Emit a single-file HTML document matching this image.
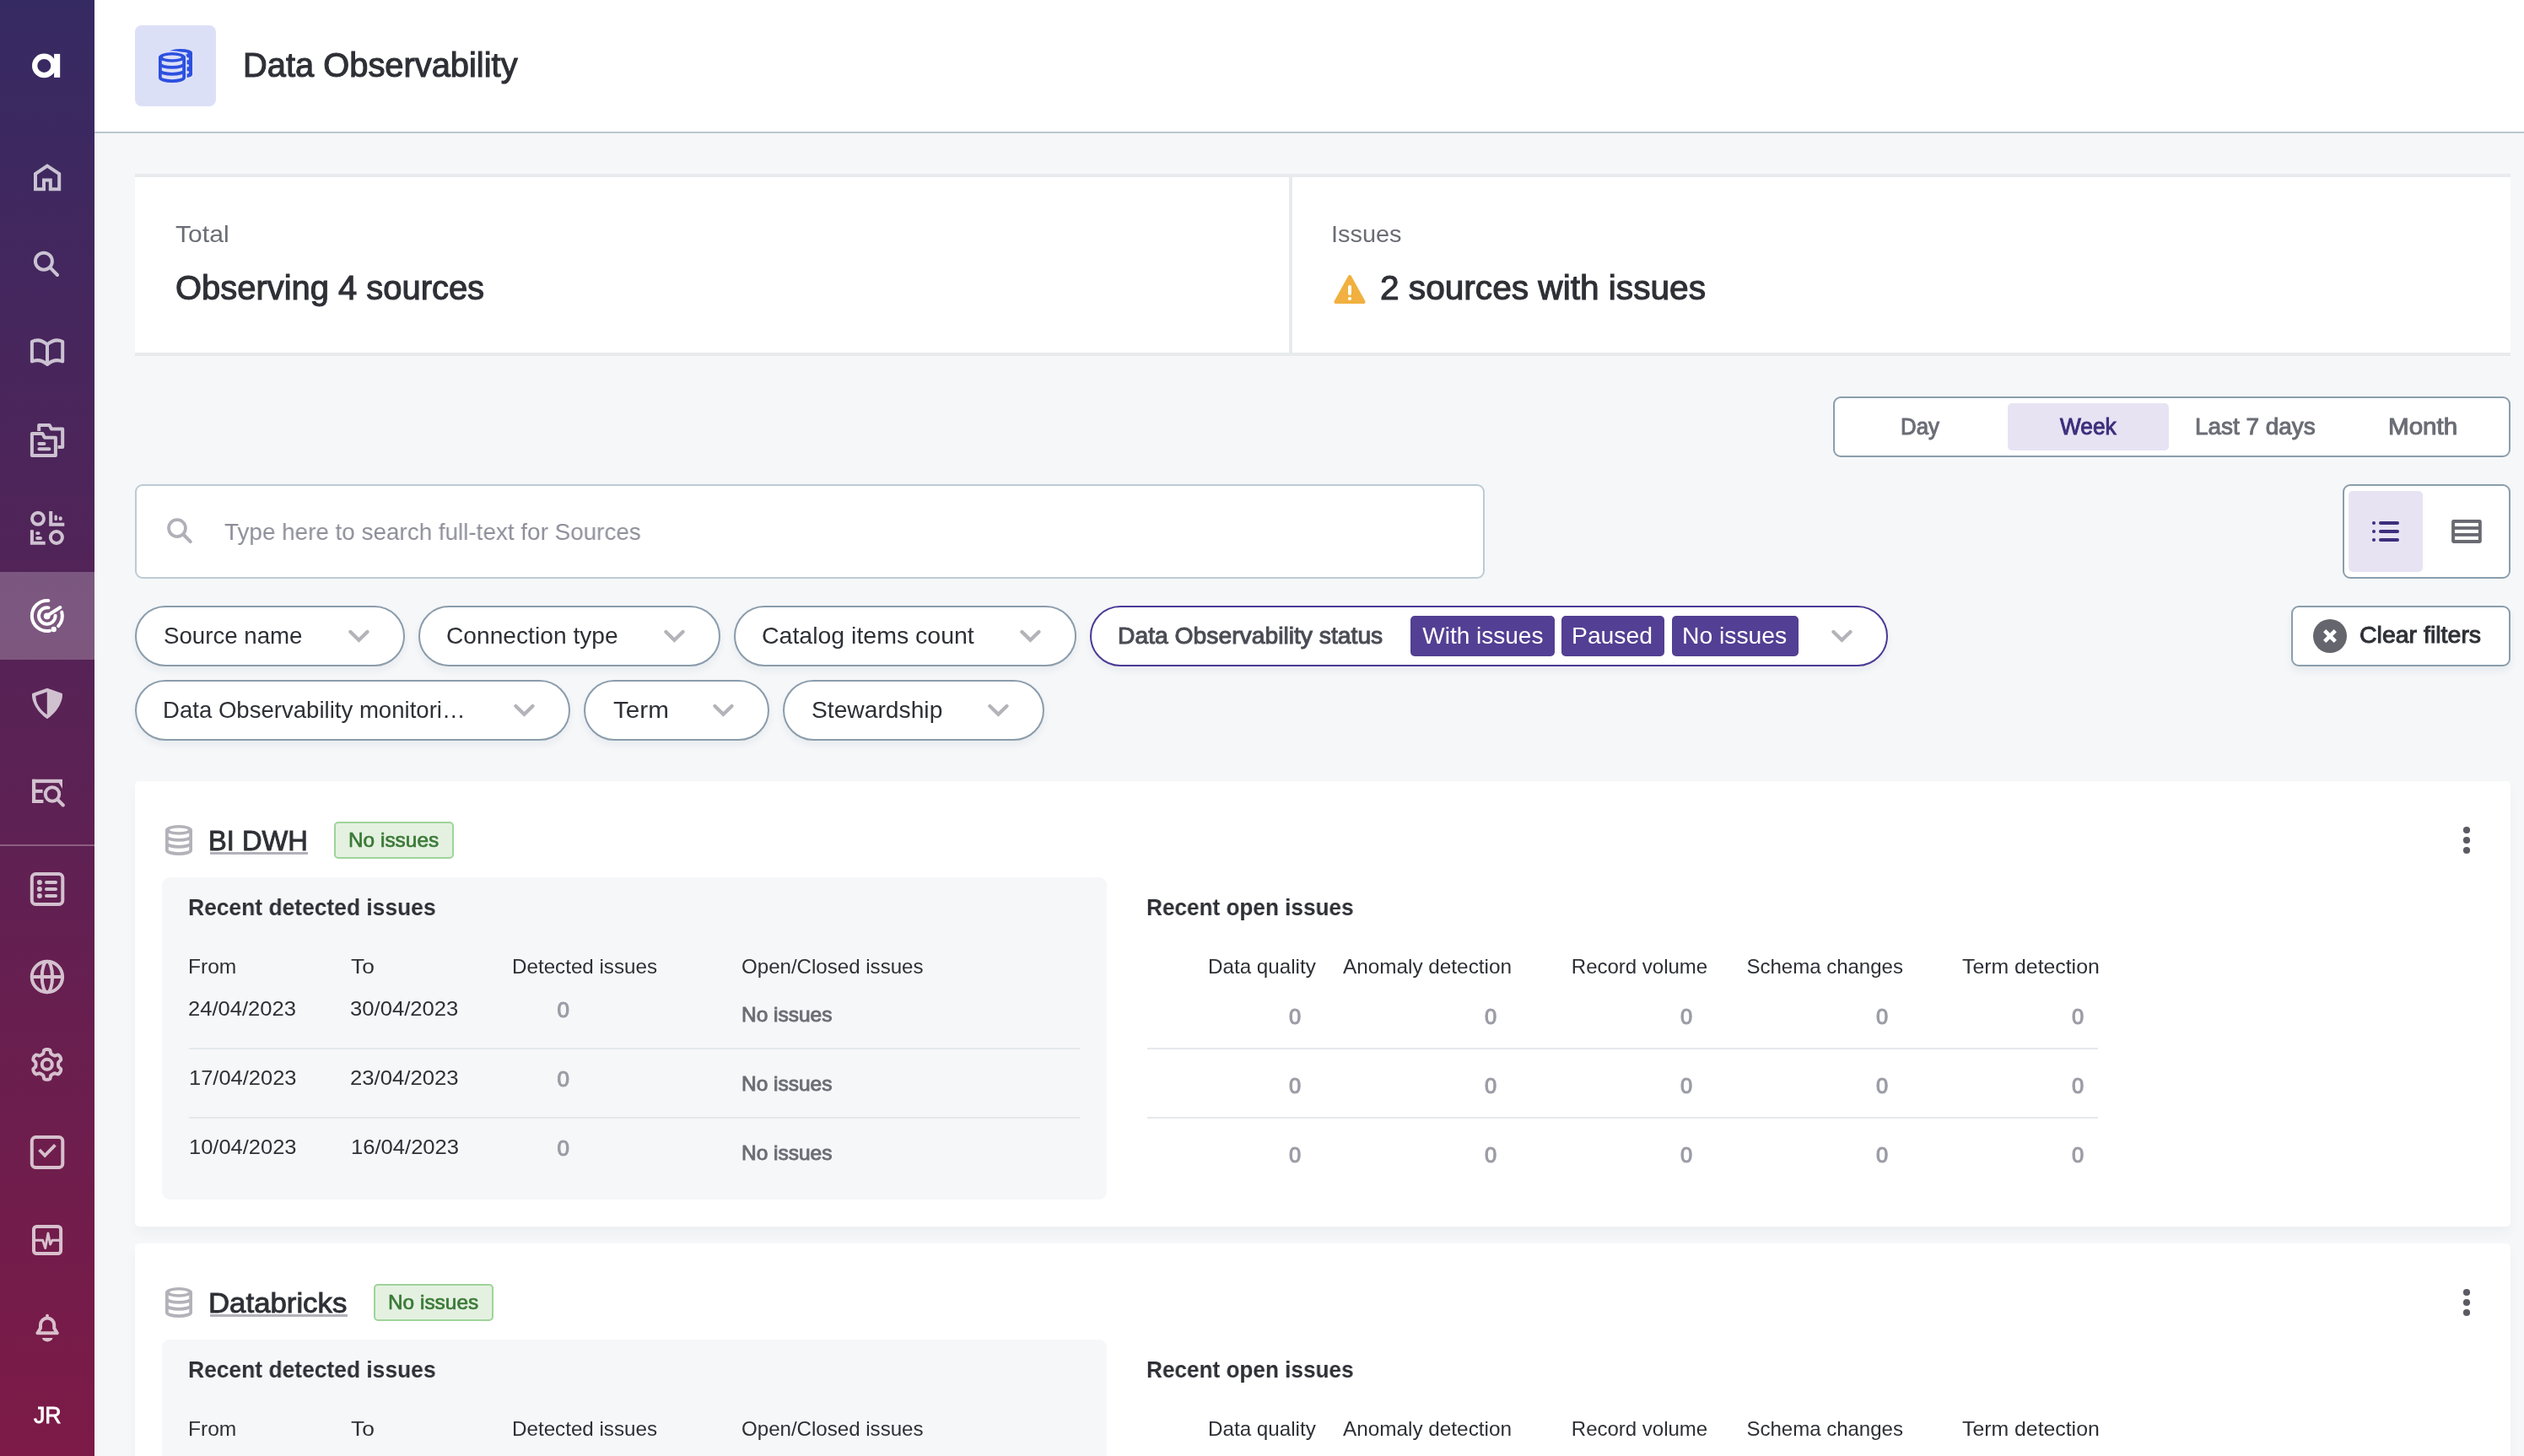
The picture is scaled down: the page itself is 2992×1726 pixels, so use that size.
<!DOCTYPE html>
<html lang="en"><head><meta charset="utf-8"><title>Data Observability</title>
<style>
html,body{margin:0;padding:0}
body{width:2992px;height:1726px;overflow:hidden;background:#f5f7f9;font-family:"Liberation Sans", sans-serif;position:relative}
.t{position:absolute;white-space:pre;line-height:1;transform-origin:0 0;display:block}
.a{position:absolute;box-sizing:border-box}
#root{position:absolute;left:0;top:0;width:2992px;height:1726px;will-change:transform}

</style></head>
<body>
<div id="root">
<div class="a" style="left:0px;top:0px;width:112px;height:1726px;background:linear-gradient(180deg,#362a63 0%,#7d1a47 100%)"></div>
<div class="a" style="left:0px;top:678px;width:112px;height:104px;background:rgba(255,255,255,0.24)"></div>
<div class="a" style="left:0px;top:1001px;width:112px;height:2px;background:rgba(255,255,255,0.28)"></div>
<svg class="a" style="left:0px;top:0px;" width="112" height="1726" viewBox="0 0 112 1726"><circle cx="52.3" cy="77.9" r="11.15" fill="none" stroke="#fff" stroke-width="6.3"/><rect x="64.1" y="63.9" width="7.1" height="28" fill="#fff"/><g opacity="0.72"><g fill="none" stroke="#ffffff" stroke-width="4" stroke-linejoin="round"><path d="M42,224.2 V206 L56,196.6 L70.2,206 V224.2 H59.8 V213.4 H52 V224.2 Z" stroke-linejoin="miter"/><circle cx="51.9" cy="309.7" r="10"/><path d="M59.6,317.4 L68,326" stroke-linecap="round"/><path d="M56,408.5 Q47,400.5 37.9,405 V428.5 Q47,424.5 56,432 Z"/><path d="M56,408.5 Q65,400.5 74.2,405 V428.5 Q65,424.5 56,432"/><path d="M37.9,514 H50.4 L52.8,518.7 H65.9 V540 H37.9 Z"/><path d="M46.2,511 V503.9 H58.6 L61,508.5 H74.2 V530 H68.6"/><path d="M46.4,526 H52.4 M46.4,532.2 H58.4" stroke-linecap="round"/><circle cx="45" cy="614.8" r="7"/><circle cx="66.9" cy="637" r="7"/><path d="M60.2,606 V621.8 H76.3" stroke-linejoin="miter"/><path d="M37.9,628.3 V643.8 H53.7" stroke-linejoin="miter"/></g><g fill="#ffffff"><rect x="64.5" y="610.4" width="3.4" height="6.8" rx="1.7"/><rect x="69.6" y="612.2" width="4.2" height="5" rx="2.1"/><rect x="42.2" y="630.2" width="5.4" height="3.8" rx="1.9"/><rect x="42.2" y="636" width="7.8" height="4" rx="2"/></g></g><g fill="none" stroke="#fff" stroke-width="4" stroke-linecap="round"><path d="M57.37,712.07 A18,18 0 1 0 58.93,747.73"/><path d="M69.18,742.04 A18,18 0 0 0 73.27,725.65"/><path d="M57.50,720.35 A9.8,9.8 0 1 0 65.59,729.66"/><path d="M55.8,730 L71.4,720"/></g><circle cx="55.7" cy="730.3" r="3.9" fill="#fff"/><circle cx="63.7" cy="746" r="3.2" fill="#fff"/><g opacity="0.72"><path fill-rule="evenodd" fill="#ffffff" d="M56,815.7 L73.6,822 C74.6,823 75,838.5 56,852.3 C37,838.5 37.4,823 38.4,822 Z M55.8,820.3 L42.4,825 C42.4,833 46.5,841 55.8,847.2 Z"/><g fill="#ffffff"><rect x="38" y="923.8" width="4.2" height="28.2"/><rect x="38" y="923.8" width="36" height="4.3"/><path d="M69.8,928 H74 V935 Z"/><rect x="38" y="935.9" width="12.6" height="4"/><rect x="38" y="948" width="13.4" height="4"/></g><g fill="none" stroke="#ffffff" stroke-width="4"><circle cx="62" cy="941.5" r="8.2"/><path d="M68.4,948 L74.8,954.5" stroke-linecap="round"/></g><g fill="none" stroke="#ffffff" stroke-width="4"><rect x="37.8" y="1036" width="36.5" height="36" rx="4.5"/><path d="M55,1045.9 H66" stroke-linecap="round"/><path d="M55,1053.9 H66" stroke-linecap="round"/><path d="M55,1061.9 H66" stroke-linecap="round"/></g><circle cx="46.9" cy="1045.9" r="3" fill="#ffffff"/><circle cx="46.9" cy="1053.9" r="3" fill="#ffffff"/><circle cx="46.9" cy="1061.9" r="3" fill="#ffffff"/><g fill="none" stroke="#ffffff" stroke-width="4"><circle cx="55.9" cy="1158" r="18.2"/><ellipse cx="55.9" cy="1158" rx="6.2" ry="18.2"/><path d="M37.7,1158 H74.1"/></g><g fill="none" stroke="#ffffff" stroke-width="4" stroke-linejoin="round"><path d="M69.05,1261.90 L69.07,1262.60 L69.13,1263.30 L69.25,1264.03 L69.48,1264.81 L70.87,1265.94 L72.17,1267.22 L72.21,1268.20 L72.06,1269.14 L71.76,1270.03 L71.35,1270.88 L70.82,1271.66 L70.20,1272.36 L69.46,1272.97 L68.59,1273.42 L66.83,1272.93 L65.16,1272.29 L64.37,1272.48 L63.68,1272.74 L63.04,1273.04 L62.42,1273.37 L61.83,1273.74 L61.25,1274.15 L60.68,1274.61 L60.12,1275.20 L59.84,1276.97 L59.38,1278.74 L58.55,1279.27 L57.66,1279.60 L56.74,1279.79 L55.80,1279.85 L54.86,1279.79 L53.94,1279.60 L53.05,1279.27 L52.22,1278.74 L51.76,1276.97 L51.48,1275.20 L50.92,1274.61 L50.35,1274.15 L49.77,1273.74 L49.17,1273.37 L48.56,1273.04 L47.92,1272.74 L47.23,1272.48 L46.44,1272.29 L44.77,1272.93 L43.01,1273.42 L42.14,1272.97 L41.40,1272.36 L40.78,1271.66 L40.25,1270.88 L39.84,1270.03 L39.54,1269.14 L39.39,1268.20 L39.43,1267.22 L40.73,1265.94 L42.12,1264.81 L42.35,1264.03 L42.47,1263.30 L42.53,1262.60 L42.55,1261.90 L42.53,1261.20 L42.47,1260.50 L42.35,1259.77 L42.12,1258.99 L40.73,1257.86 L39.43,1256.58 L39.39,1255.60 L39.54,1254.66 L39.84,1253.77 L40.25,1252.93 L40.78,1252.14 L41.40,1251.44 L42.14,1250.83 L43.01,1250.38 L44.77,1250.87 L46.44,1251.51 L47.23,1251.32 L47.92,1251.06 L48.56,1250.76 L49.17,1250.43 L49.77,1250.06 L50.35,1249.65 L50.92,1249.19 L51.48,1248.60 L51.76,1246.83 L52.22,1245.06 L53.05,1244.53 L53.94,1244.20 L54.86,1244.01 L55.80,1243.95 L56.74,1244.01 L57.66,1244.20 L58.55,1244.53 L59.38,1245.06 L59.84,1246.83 L60.12,1248.60 L60.68,1249.19 L61.25,1249.65 L61.83,1250.06 L62.42,1250.43 L63.04,1250.76 L63.68,1251.06 L64.37,1251.32 L65.16,1251.51 L66.83,1250.87 L68.59,1250.38 L69.46,1250.83 L70.20,1251.44 L70.82,1252.14 L71.35,1252.93 L71.76,1253.77 L72.06,1254.66 L72.21,1255.60 L72.17,1256.58 L70.87,1257.86 L69.48,1258.99 L69.25,1259.77 L69.13,1260.50 L69.07,1261.20 Z"/><circle cx="55.8" cy="1261.8" r="6"/></g><g fill="none" stroke="#ffffff" stroke-width="4"><rect x="37.8" y="1348" width="36.5" height="36" rx="4.5"/><path d="M46.6,1363 L53.2,1369.8 L65.4,1357.4" stroke-width="3.8"/></g><g fill="none" stroke="#ffffff" stroke-width="4"><rect x="40" y="1454" width="32.1" height="32.1" rx="3.5"/><path d="M40,1470.2 H50.6 L53.7,1479.5 L57,1462 L59.6,1475 L62,1470.2 H72" stroke-width="2.9" stroke-linejoin="round"/></g><g fill="none" stroke="#ffffff" stroke-width="4" stroke-linejoin="round"><path d="M44.4,1580.2 L48,1574.5 V1570.6 A8.1,8.1 0 0 1 64.2,1570.6 V1574.5 L67.8,1580.2 Z"/></g><circle cx="56" cy="1559.8" r="2" fill="#ffffff"/><path d="M50,1586 H62.4 A6.2,4.4 0 0 1 50,1586 Z" fill="#ffffff"/></g></svg>
<span class="t" style="left:39.90px;top:1664.00px;font-size:28px;color:#ffffff;transform:scaleX(0.9552);-webkit-text-stroke:0.8px currentColor;">JR</span>
<div class="a" style="left:112px;top:0px;width:2880px;height:156px;background:#fff"></div>
<div class="a" style="left:112px;top:156px;width:2880px;height:2px;background:#b9c6d0"></div>
<div class="a" style="left:160px;top:30px;width:96px;height:96px;background:#dce0f7;border-radius:8px"></div>
<svg class="a" style="left:184px;top:54px;" width="48" height="48" viewBox="184 54 48 48"><path d="M200,62.2 A14,4.3 0 0 1 228,62.2 V88.5 A14,4.3 0 0 1 200,88.5 Z" fill="#2d50e0"/><ellipse cx="213.4" cy="63.4" rx="9.2" ry="2.0" fill="#dce0f7"/><rect x="220.6" y="68.2" width="3.2" height="3" fill="#dce0f7"/><rect x="220.6" y="76.3" width="3.2" height="3" fill="#dce0f7"/><rect x="220.6" y="84.2" width="3.2" height="3" fill="#dce0f7"/><path d="M186.4,67.8 A17.6,7.6 0 0 1 221.6,67.8 V92 A17.6,7.6 0 0 1 186.4,92 Z" fill="#dce0f7"/><path fill="#2d50e0" fill-rule="evenodd" d="M188,67.85 a16,5.9 0 1 0 32,0 a16,5.9 0 1 0 -32,0 Z M193,67.85 a11,2.3 0 1 0 22,0 a11,2.3 0 1 0 -22,0 Z"/><g fill="none" stroke="#2d50e0" stroke-width="3.8"><path d="M189.9,67.85 V92.05 A14.1,4 0 0 0 218.1,92.05 V67.85"/><path d="M189.9,75.9 A14.1,4 0 0 0 218.1,75.9"/><path d="M189.9,83.85 A14.1,4 0 0 0 218.1,83.85"/></g></svg>
<span class="t" style="left:287.76px;top:57.00px;font-size:40px;color:#2e3036;transform:scaleX(0.9962);-webkit-text-stroke:1.1px currentColor;">Data Observability</span>
<div class="a" style="left:160px;top:206px;width:2816px;height:216px;background:#fff;border-top:4px solid #e8ebee;border-bottom:4px solid #e8ebee"></div>
<div class="a" style="left:1528px;top:206px;width:4px;height:216px;background:#e8ebee"></div>
<span class="t" style="left:207.94px;top:264.00px;font-size:28px;color:#6b6d75;transform:scaleX(1.0752);">Total</span>
<span class="t" style="left:208.25px;top:321.00px;font-size:40px;color:#2e3036;transform:scaleX(0.9979);-webkit-text-stroke:1.1px currentColor;">Observing 4 sources</span>
<span class="t" style="left:1578.42px;top:264.00px;font-size:28px;color:#6b6d75;transform:scaleX(1.0323);">Issues</span>
<svg class="a" style="left:1580px;top:325px;" width="40" height="36" viewBox="0 0 40 36"><path d="M20,3 L36.6,33 L3.4,33 Z" fill="#f1b03f" stroke="#f1b03f" stroke-width="4" stroke-linejoin="round"/><rect x="18" y="13" width="4" height="12" rx="2" fill="#fff"/><circle cx="20" cy="29" r="2.1" fill="#fff"/></svg>
<span class="t" style="left:1635.98px;top:321.00px;font-size:40px;color:#2e3036;transform:scaleX(1.0152);-webkit-text-stroke:1.1px currentColor;">2 sources with issues</span>
<div class="a" style="left:2173px;top:470px;width:803px;height:72px;background:#fff;border:2px solid #8a9eac;border-radius:9px"></div>
<div class="a" style="left:2380px;top:478px;width:191px;height:56px;background:#e7e3f3;border-radius:5px"></div>
<span class="t" style="left:2253.38px;top:492.00px;font-size:28px;color:#6b6d75;transform:scaleX(0.9231);-webkit-text-stroke:1.0px currentColor;">Day</span>
<span class="t" style="left:2441.97px;top:492.00px;font-size:28px;color:#3d2e7c;transform:scaleX(0.9379);-webkit-text-stroke:1.0px currentColor;">Week</span>
<span class="t" style="left:2601.76px;top:492.00px;font-size:28px;color:#6b6d75;transform:scaleX(0.9965);-webkit-text-stroke:1.0px currentColor;">Last 7 days</span>
<span class="t" style="left:2831.15px;top:492.00px;font-size:28px;color:#6b6d75;transform:scaleX(1.0569);-webkit-text-stroke:1.0px currentColor;">Month</span>
<div class="a" style="left:160px;top:574px;width:1600px;height:112px;background:#fff;border:2px solid #bccbd4;border-radius:9px"></div>
<svg class="a" style="left:198px;top:613.5px;" width="32" height="32" viewBox="0 0 32 32"><g fill="none" stroke="#b1afb7" stroke-linecap="round"><circle cx="11.95" cy="12.1" r="9.95" stroke-width="3.7"/><path d="M19.3,19.5 L27.8,28.1" stroke-width="4"/></g></svg>
<span class="t" style="left:266.25px;top:617.00px;font-size:28px;color:#8e8e9a;transform:scaleX(0.9944);">Type here to search full-text for Sources</span>
<div class="a" style="left:2776.5px;top:574px;width:199px;height:112px;background:#fff;border:2px solid #8a9eac;border-radius:9px"></div>
<div class="a" style="left:2784px;top:582px;width:88px;height:96px;background:#e7e3f3;border-radius:5px"></div>
<svg class="a" style="left:2811px;top:616px;" width="34" height="28" viewBox="0 0 34 28"><circle cx="3" cy="4" r="2.05" fill="#3d2e7c"/><path d="M11,4 H31" stroke="#3d2e7c" stroke-width="4" stroke-linecap="round"/><circle cx="3" cy="14" r="2.05" fill="#3d2e7c"/><path d="M11,14 H31" stroke="#3d2e7c" stroke-width="4" stroke-linecap="round"/><circle cx="3" cy="24" r="2.05" fill="#3d2e7c"/><path d="M11,24 H31" stroke="#3d2e7c" stroke-width="4" stroke-linecap="round"/></svg>
<svg class="a" style="left:2906px;top:616px;" width="36" height="28" viewBox="0 0 36 28"><rect x="0.1" y="0.1" width="35.7" height="27.8" rx="2.4" fill="#696a71"/><rect x="3.95" y="3.95" width="28" height="4.1" fill="#fff"/><rect x="3.95" y="11.9" width="28" height="4.1" fill="#fff"/><rect x="3.95" y="19.85" width="28" height="4.1" fill="#fff"/></svg>
<div class="a" style="left:160px;top:718px;width:320px;height:72px;background:#fff;border:2px solid #8a9cab;border-radius:36px;box-shadow:0 5px 10px rgba(40,50,70,0.06)"></div>
<span class="t" style="left:193.77px;top:740.00px;font-size:28px;color:#2e3036;transform:scaleX(0.9878);">Source name</span>
<svg class="a" style="left:413px;top:746px;" width="25" height="17" viewBox="0 0 25 17"><path d="M2.4,2.9 L12.4,12.8 L22.5,2.9" fill="none" stroke="#b4b3b9" stroke-width="4.2" stroke-linecap="round" stroke-linejoin="miter"/></svg>
<div class="a" style="left:496px;top:718px;width:357.5px;height:72px;background:#fff;border:2px solid #8a9cab;border-radius:36px;box-shadow:0 5px 10px rgba(40,50,70,0.06)"></div>
<span class="t" style="left:528.99px;top:740.00px;font-size:28px;color:#2e3036;transform:scaleX(1.0063);">Connection type</span>
<svg class="a" style="left:786.5px;top:746px;" width="25" height="17" viewBox="0 0 25 17"><path d="M2.4,2.9 L12.4,12.8 L22.5,2.9" fill="none" stroke="#b4b3b9" stroke-width="4.2" stroke-linecap="round" stroke-linejoin="miter"/></svg>
<div class="a" style="left:870px;top:718px;width:405.5px;height:72px;background:#fff;border:2px solid #8a9cab;border-radius:36px;box-shadow:0 5px 10px rgba(40,50,70,0.06)"></div>
<span class="t" style="left:902.97px;top:740.00px;font-size:28px;color:#2e3036;transform:scaleX(1.0173);">Catalog items count</span>
<svg class="a" style="left:1208.5px;top:746px;" width="25" height="17" viewBox="0 0 25 17"><path d="M2.4,2.9 L12.4,12.8 L22.5,2.9" fill="none" stroke="#b4b3b9" stroke-width="4.2" stroke-linecap="round" stroke-linejoin="miter"/></svg>
<div class="a" style="left:1292px;top:718px;width:946px;height:72px;background:#fff;border:2px solid #4b3a96;border-radius:36px;box-shadow:0 5px 10px rgba(40,50,70,0.06)"></div>
<span class="t" style="left:1325.23px;top:740.00px;font-size:28px;color:#4a4c54;transform:scaleX(1.0097);-webkit-text-stroke:1.0px currentColor;">Data Observability status</span>
<div class="a" style="left:1672px;top:730px;width:171px;height:48px;background:#533f93;border-radius:5px"></div>
<span class="t" style="left:1686.25px;top:740.00px;font-size:28px;color:#ffffff;">With issues</span>
<div class="a" style="left:1851px;top:730px;width:122px;height:48px;background:#533f93;border-radius:5px"></div>
<span class="t" style="left:1863.23px;top:740.00px;font-size:28px;color:#ffffff;transform:scaleX(1.0110);">Paused</span>
<div class="a" style="left:1981.5px;top:730px;width:150.5px;height:48px;background:#533f93;border-radius:5px"></div>
<span class="t" style="left:1993.73px;top:740.00px;font-size:28px;color:#ffffff;transform:scaleX(1.0104);">No issues</span>
<svg class="a" style="left:2171px;top:746px;" width="25" height="17" viewBox="0 0 25 17"><path d="M2.4,2.9 L12.4,12.8 L22.5,2.9" fill="none" stroke="#b4b3b9" stroke-width="4.2" stroke-linecap="round" stroke-linejoin="miter"/></svg>
<div class="a" style="left:160px;top:806px;width:515.5px;height:72px;background:#fff;border:2px solid #8a9cab;border-radius:36px;box-shadow:0 5px 10px rgba(40,50,70,0.06)"></div>
<span class="t" style="left:192.78px;top:828.00px;font-size:28px;color:#2e3036;transform:scaleX(0.9846);">Data Observability monitori…</span>
<svg class="a" style="left:609px;top:834px;" width="25" height="17" viewBox="0 0 25 17"><path d="M2.4,2.9 L12.4,12.8 L22.5,2.9" fill="none" stroke="#b4b3b9" stroke-width="4.2" stroke-linecap="round" stroke-linejoin="miter"/></svg>
<div class="a" style="left:692px;top:806px;width:219.5px;height:72px;background:#fff;border:2px solid #8a9cab;border-radius:36px;box-shadow:0 5px 10px rgba(40,50,70,0.06)"></div>
<span class="t" style="left:726.71px;top:828.00px;font-size:28px;color:#2e3036;transform:scaleX(1.0588);">Term</span>
<svg class="a" style="left:844.5px;top:834px;" width="25" height="17" viewBox="0 0 25 17"><path d="M2.4,2.9 L12.4,12.8 L22.5,2.9" fill="none" stroke="#b4b3b9" stroke-width="4.2" stroke-linecap="round" stroke-linejoin="miter"/></svg>
<div class="a" style="left:928px;top:806px;width:310px;height:72px;background:#fff;border:2px solid #8a9cab;border-radius:36px;box-shadow:0 5px 10px rgba(40,50,70,0.06)"></div>
<span class="t" style="left:961.74px;top:828.00px;font-size:28px;color:#2e3036;transform:scaleX(1.0082);">Stewardship</span>
<svg class="a" style="left:1171px;top:834px;" width="25" height="17" viewBox="0 0 25 17"><path d="M2.4,2.9 L12.4,12.8 L22.5,2.9" fill="none" stroke="#b4b3b9" stroke-width="4.2" stroke-linecap="round" stroke-linejoin="miter"/></svg>
<div class="a" style="left:2716px;top:718px;width:259.5px;height:72px;background:#fff;border:2px solid #8a9eac;border-radius:9px;box-shadow:0 6px 10px rgba(40,50,70,0.06)"></div>
<svg class="a" style="left:2742px;top:734px;" width="40" height="40" viewBox="0 0 40 40"><circle cx="20" cy="20" r="20" fill="#65666d"/><path d="M13.7,13.7 L26.3,26.3 M26.3,13.7 L13.7,26.3" stroke="#fff" stroke-width="4.6" stroke-linecap="butt"/></svg>
<span class="t" style="left:2797.48px;top:739.00px;font-size:28px;color:#2e3036;transform:scaleX(1.0179);-webkit-text-stroke:1.0px currentColor;">Clear filters</span>
<div class="a" style="left:160px;top:926px;width:2816px;height:527.5px;background:#fff;border-radius:5px;box-shadow:0 8px 14px rgba(40,50,70,0.035)"></div><svg class="a" style="left:194px;top:976px;" width="36" height="40" viewBox="194 976 36 40"><path fill="#b3b2b9" fill-rule="evenodd" d="M196,983.85 a16,5.9 0 1 0 32,0 a16,5.9 0 1 0 -32,0 Z M201,983.85 a11,2.3 0 1 0 22,0 a11,2.3 0 1 0 -22,0 Z"/><g fill="none" stroke="#b3b2b9" stroke-width="3.8"><path d="M197.9,983.85 V1008.05 A14.1,4 0 0 0 226.1,1008.05 V983.85"/><path d="M197.9,991.9 A14.1,4 0 0 0 226.1,991.9"/><path d="M197.9,999.85 A14.1,4 0 0 0 226.1,999.85"/></g></svg><span class="t" style="left:247.27px;top:980.00px;font-size:33px;color:#2e3036;transform:scaleX(0.9891);-webkit-text-stroke:0.9px currentColor;">BI DWH</span><div class="a" style="left:248.5px;top:1009.5px;width:116px;height:3.5px;background:#b3b2ba"></div><div class="a" style="left:396px;top:974px;width:142px;height:44px;background:#e4f1e1;border:2px solid #9fd39a;border-radius:5px"></div><span class="t" style="left:412.97px;top:984.00px;font-size:24px;color:#3b7a37;transform:scaleX(1.0169);-webkit-text-stroke:0.7px currentColor;">No issues</span><svg class="a" style="left:2918.75px;top:979px;overflow:visible" width="10" height="34" viewBox="0 0 10 34"><circle cx="5" cy="5" r="4.1" fill="#5b5c63"/><circle cx="5" cy="17" r="4.1" fill="#5b5c63"/><circle cx="5" cy="29" r="4.1" fill="#5b5c63"/></svg><div class="a" style="left:192px;top:1040px;width:1120px;height:382px;background:#f6f7f9;border-radius:9px"></div><span class="t" style="left:223.11px;top:1062.00px;font-size:28px;color:#2e3036;font-weight:700;transform:scaleX(0.9432);">Recent detected issues</span><span class="t" style="left:222.95px;top:1134.00px;font-size:24px;color:#2e3036;transform:scaleX(1.0238);">From</span><span class="t" style="left:415.95px;top:1134.00px;font-size:24px;color:#2e3036;transform:scaleX(1.0947);">To</span><span class="t" style="left:606.99px;top:1134.00px;font-size:24px;color:#2e3036;transform:scaleX(1.0075);">Detected issues</span><span class="t" style="left:879.05px;top:1134.00px;font-size:24px;color:#2e3036;transform:scaleX(1.0035);">Open/Closed issues</span><span class="t" style="left:223.17px;top:1184.00px;font-size:24px;color:#2e3036;transform:scaleX(1.0658);">24/04/2023</span><span class="t" style="left:415.43px;top:1184.00px;font-size:24px;color:#2e3036;transform:scaleX(1.0678);">30/04/2023</span><span class="t" style="left:660.50px;top:1184.00px;font-size:26px;color:#9b9ca5;-webkit-text-stroke:1.1px currentColor;">0</span><span class="t" style="left:878.77px;top:1191.00px;font-size:24px;color:#6b6d75;transform:scaleX(1.0193);-webkit-text-stroke:0.9px currentColor;">No issues</span><div class="a" style="left:224px;top:1242px;width:1056px;height:2px;background:#e4e9ec"></div><div class="a" style="left:1360px;top:1242px;width:1127px;height:2px;background:#e4e9ec"></div><span class="t" style="left:223.64px;top:1266.00px;font-size:24px;color:#2e3036;transform:scaleX(1.0618);">17/04/2023</span><span class="t" style="left:415.16px;top:1266.00px;font-size:24px;color:#2e3036;transform:scaleX(1.0701);">23/04/2023</span><span class="t" style="left:660.50px;top:1266.00px;font-size:26px;color:#9b9ca5;-webkit-text-stroke:1.1px currentColor;">0</span><span class="t" style="left:878.77px;top:1273.00px;font-size:24px;color:#6b6d75;transform:scaleX(1.0193);-webkit-text-stroke:0.9px currentColor;">No issues</span><div class="a" style="left:224px;top:1324px;width:1056px;height:2px;background:#e4e9ec"></div><div class="a" style="left:1360px;top:1324px;width:1127px;height:2px;background:#e4e9ec"></div><span class="t" style="left:223.64px;top:1348.00px;font-size:24px;color:#2e3036;transform:scaleX(1.0618);">10/04/2023</span><span class="t" style="left:415.63px;top:1348.00px;font-size:24px;color:#2e3036;transform:scaleX(1.0661);">16/04/2023</span><span class="t" style="left:660.50px;top:1348.00px;font-size:26px;color:#9b9ca5;-webkit-text-stroke:1.1px currentColor;">0</span><span class="t" style="left:878.77px;top:1355.00px;font-size:24px;color:#6b6d75;transform:scaleX(1.0193);-webkit-text-stroke:0.9px currentColor;">No issues</span><span class="t" style="left:1359.13px;top:1062.00px;font-size:28px;color:#2e3036;font-weight:700;transform:scaleX(0.9336);">Recent open issues</span><span class="t" style="left:1431.98px;top:1134.00px;font-size:24px;color:#2e3036;transform:scaleX(1.0080);">Data quality</span><span class="t" style="left:1528.26px;top:1192.00px;font-size:26px;color:#9b9ca5;transform:scaleX(0.9815);-webkit-text-stroke:1.1px currentColor;">0</span><span class="t" style="left:1528.26px;top:1274.00px;font-size:26px;color:#9b9ca5;transform:scaleX(0.9815);-webkit-text-stroke:1.1px currentColor;">0</span><span class="t" style="left:1528.26px;top:1356.00px;font-size:26px;color:#9b9ca5;transform:scaleX(0.9815);-webkit-text-stroke:1.1px currentColor;">0</span><span class="t" style="left:1592.40px;top:1134.00px;font-size:24px;color:#2e3036;transform:scaleX(1.0128);">Anomaly detection</span><span class="t" style="left:1760.11px;top:1192.00px;font-size:26px;color:#9b9ca5;transform:scaleX(0.9815);-webkit-text-stroke:1.1px currentColor;">0</span><span class="t" style="left:1760.11px;top:1274.00px;font-size:26px;color:#9b9ca5;transform:scaleX(0.9815);-webkit-text-stroke:1.1px currentColor;">0</span><span class="t" style="left:1760.11px;top:1356.00px;font-size:26px;color:#9b9ca5;transform:scaleX(0.9815);-webkit-text-stroke:1.1px currentColor;">0</span><span class="t" style="left:1862.80px;top:1134.00px;font-size:24px;color:#2e3036;">Record volume</span><span class="t" style="left:1991.96px;top:1192.00px;font-size:26px;color:#9b9ca5;transform:scaleX(0.9815);-webkit-text-stroke:1.1px currentColor;">0</span><span class="t" style="left:1991.96px;top:1274.00px;font-size:26px;color:#9b9ca5;transform:scaleX(0.9815);-webkit-text-stroke:1.1px currentColor;">0</span><span class="t" style="left:1991.96px;top:1356.00px;font-size:26px;color:#9b9ca5;transform:scaleX(0.9815);-webkit-text-stroke:1.1px currentColor;">0</span><span class="t" style="left:2070.45px;top:1134.00px;font-size:24px;color:#2e3036;">Schema changes</span><span class="t" style="left:2223.81px;top:1192.00px;font-size:26px;color:#9b9ca5;transform:scaleX(0.9815);-webkit-text-stroke:1.1px currentColor;">0</span><span class="t" style="left:2223.81px;top:1274.00px;font-size:26px;color:#9b9ca5;transform:scaleX(0.9815);-webkit-text-stroke:1.1px currentColor;">0</span><span class="t" style="left:2223.81px;top:1356.00px;font-size:26px;color:#9b9ca5;transform:scaleX(0.9815);-webkit-text-stroke:1.1px currentColor;">0</span><span class="t" style="left:2325.58px;top:1134.00px;font-size:24px;color:#2e3036;transform:scaleX(1.0338);">Term detection</span><span class="t" style="left:2455.66px;top:1192.00px;font-size:26px;color:#9b9ca5;transform:scaleX(0.9815);-webkit-text-stroke:1.1px currentColor;">0</span><span class="t" style="left:2455.66px;top:1274.00px;font-size:26px;color:#9b9ca5;transform:scaleX(0.9815);-webkit-text-stroke:1.1px currentColor;">0</span><span class="t" style="left:2455.66px;top:1356.00px;font-size:26px;color:#9b9ca5;transform:scaleX(0.9815);-webkit-text-stroke:1.1px currentColor;">0</span>
<div class="a" style="left:160px;top:1474px;width:2816px;height:527.5px;background:#fff;border-radius:5px;box-shadow:0 8px 14px rgba(40,50,70,0.035)"></div><svg class="a" style="left:194px;top:1524px;" width="36" height="40" viewBox="194 1524 36 40"><path fill="#b3b2b9" fill-rule="evenodd" d="M196,1531.85 a16,5.9 0 1 0 32,0 a16,5.9 0 1 0 -32,0 Z M201,1531.85 a11,2.3 0 1 0 22,0 a11,2.3 0 1 0 -22,0 Z"/><g fill="none" stroke="#b3b2b9" stroke-width="3.8"><path d="M197.9,1531.85 V1556.05 A14.1,4 0 0 0 226.1,1556.05 V1531.85"/><path d="M197.9,1539.9 A14.1,4 0 0 0 226.1,1539.9"/><path d="M197.9,1547.85 A14.1,4 0 0 0 226.1,1547.85"/></g></svg><span class="t" style="left:247.13px;top:1528.00px;font-size:33px;color:#2e3036;transform:scaleX(1.0540);-webkit-text-stroke:0.9px currentColor;">Databricks</span><div class="a" style="left:248.5px;top:1557.5px;width:163.5px;height:3.5px;background:#b3b2ba"></div><div class="a" style="left:443px;top:1522px;width:142px;height:44px;background:#e4f1e1;border:2px solid #9fd39a;border-radius:5px"></div><span class="t" style="left:459.97px;top:1532.00px;font-size:24px;color:#3b7a37;transform:scaleX(1.0169);-webkit-text-stroke:0.7px currentColor;">No issues</span><svg class="a" style="left:2918.75px;top:1527px;overflow:visible" width="10" height="34" viewBox="0 0 10 34"><circle cx="5" cy="5" r="4.1" fill="#5b5c63"/><circle cx="5" cy="17" r="4.1" fill="#5b5c63"/><circle cx="5" cy="29" r="4.1" fill="#5b5c63"/></svg><div class="a" style="left:192px;top:1588px;width:1120px;height:382px;background:#f6f7f9;border-radius:9px"></div><span class="t" style="left:223.11px;top:1610.00px;font-size:28px;color:#2e3036;font-weight:700;transform:scaleX(0.9432);">Recent detected issues</span><span class="t" style="left:222.95px;top:1682.00px;font-size:24px;color:#2e3036;transform:scaleX(1.0238);">From</span><span class="t" style="left:415.95px;top:1682.00px;font-size:24px;color:#2e3036;transform:scaleX(1.0947);">To</span><span class="t" style="left:606.99px;top:1682.00px;font-size:24px;color:#2e3036;transform:scaleX(1.0075);">Detected issues</span><span class="t" style="left:879.05px;top:1682.00px;font-size:24px;color:#2e3036;transform:scaleX(1.0035);">Open/Closed issues</span><span class="t" style="left:223.17px;top:1732.00px;font-size:24px;color:#2e3036;transform:scaleX(1.0658);">24/04/2023</span><span class="t" style="left:415.43px;top:1732.00px;font-size:24px;color:#2e3036;transform:scaleX(1.0678);">30/04/2023</span><span class="t" style="left:660.50px;top:1732.00px;font-size:26px;color:#9b9ca5;-webkit-text-stroke:1.1px currentColor;">0</span><span class="t" style="left:878.77px;top:1739.00px;font-size:24px;color:#6b6d75;transform:scaleX(1.0193);-webkit-text-stroke:0.9px currentColor;">No issues</span><div class="a" style="left:224px;top:1790px;width:1056px;height:2px;background:#e4e9ec"></div><div class="a" style="left:1360px;top:1790px;width:1127px;height:2px;background:#e4e9ec"></div><span class="t" style="left:223.64px;top:1814.00px;font-size:24px;color:#2e3036;transform:scaleX(1.0618);">17/04/2023</span><span class="t" style="left:415.16px;top:1814.00px;font-size:24px;color:#2e3036;transform:scaleX(1.0701);">23/04/2023</span><span class="t" style="left:660.50px;top:1814.00px;font-size:26px;color:#9b9ca5;-webkit-text-stroke:1.1px currentColor;">0</span><span class="t" style="left:878.77px;top:1821.00px;font-size:24px;color:#6b6d75;transform:scaleX(1.0193);-webkit-text-stroke:0.9px currentColor;">No issues</span><div class="a" style="left:224px;top:1872px;width:1056px;height:2px;background:#e4e9ec"></div><div class="a" style="left:1360px;top:1872px;width:1127px;height:2px;background:#e4e9ec"></div><span class="t" style="left:223.64px;top:1896.00px;font-size:24px;color:#2e3036;transform:scaleX(1.0618);">10/04/2023</span><span class="t" style="left:415.63px;top:1896.00px;font-size:24px;color:#2e3036;transform:scaleX(1.0661);">16/04/2023</span><span class="t" style="left:660.50px;top:1896.00px;font-size:26px;color:#9b9ca5;-webkit-text-stroke:1.1px currentColor;">0</span><span class="t" style="left:878.77px;top:1903.00px;font-size:24px;color:#6b6d75;transform:scaleX(1.0193);-webkit-text-stroke:0.9px currentColor;">No issues</span><span class="t" style="left:1359.13px;top:1610.00px;font-size:28px;color:#2e3036;font-weight:700;transform:scaleX(0.9336);">Recent open issues</span><span class="t" style="left:1431.98px;top:1682.00px;font-size:24px;color:#2e3036;transform:scaleX(1.0080);">Data quality</span><span class="t" style="left:1528.26px;top:1740.00px;font-size:26px;color:#9b9ca5;transform:scaleX(0.9815);-webkit-text-stroke:1.1px currentColor;">0</span><span class="t" style="left:1528.26px;top:1822.00px;font-size:26px;color:#9b9ca5;transform:scaleX(0.9815);-webkit-text-stroke:1.1px currentColor;">0</span><span class="t" style="left:1528.26px;top:1904.00px;font-size:26px;color:#9b9ca5;transform:scaleX(0.9815);-webkit-text-stroke:1.1px currentColor;">0</span><span class="t" style="left:1592.40px;top:1682.00px;font-size:24px;color:#2e3036;transform:scaleX(1.0128);">Anomaly detection</span><span class="t" style="left:1760.11px;top:1740.00px;font-size:26px;color:#9b9ca5;transform:scaleX(0.9815);-webkit-text-stroke:1.1px currentColor;">0</span><span class="t" style="left:1760.11px;top:1822.00px;font-size:26px;color:#9b9ca5;transform:scaleX(0.9815);-webkit-text-stroke:1.1px currentColor;">0</span><span class="t" style="left:1760.11px;top:1904.00px;font-size:26px;color:#9b9ca5;transform:scaleX(0.9815);-webkit-text-stroke:1.1px currentColor;">0</span><span class="t" style="left:1862.80px;top:1682.00px;font-size:24px;color:#2e3036;">Record volume</span><span class="t" style="left:1991.96px;top:1740.00px;font-size:26px;color:#9b9ca5;transform:scaleX(0.9815);-webkit-text-stroke:1.1px currentColor;">0</span><span class="t" style="left:1991.96px;top:1822.00px;font-size:26px;color:#9b9ca5;transform:scaleX(0.9815);-webkit-text-stroke:1.1px currentColor;">0</span><span class="t" style="left:1991.96px;top:1904.00px;font-size:26px;color:#9b9ca5;transform:scaleX(0.9815);-webkit-text-stroke:1.1px currentColor;">0</span><span class="t" style="left:2070.45px;top:1682.00px;font-size:24px;color:#2e3036;">Schema changes</span><span class="t" style="left:2223.81px;top:1740.00px;font-size:26px;color:#9b9ca5;transform:scaleX(0.9815);-webkit-text-stroke:1.1px currentColor;">0</span><span class="t" style="left:2223.81px;top:1822.00px;font-size:26px;color:#9b9ca5;transform:scaleX(0.9815);-webkit-text-stroke:1.1px currentColor;">0</span><span class="t" style="left:2223.81px;top:1904.00px;font-size:26px;color:#9b9ca5;transform:scaleX(0.9815);-webkit-text-stroke:1.1px currentColor;">0</span><span class="t" style="left:2325.58px;top:1682.00px;font-size:24px;color:#2e3036;transform:scaleX(1.0338);">Term detection</span><span class="t" style="left:2455.66px;top:1740.00px;font-size:26px;color:#9b9ca5;transform:scaleX(0.9815);-webkit-text-stroke:1.1px currentColor;">0</span><span class="t" style="left:2455.66px;top:1822.00px;font-size:26px;color:#9b9ca5;transform:scaleX(0.9815);-webkit-text-stroke:1.1px currentColor;">0</span><span class="t" style="left:2455.66px;top:1904.00px;font-size:26px;color:#9b9ca5;transform:scaleX(0.9815);-webkit-text-stroke:1.1px currentColor;">0</span>
</div>
</body></html>
